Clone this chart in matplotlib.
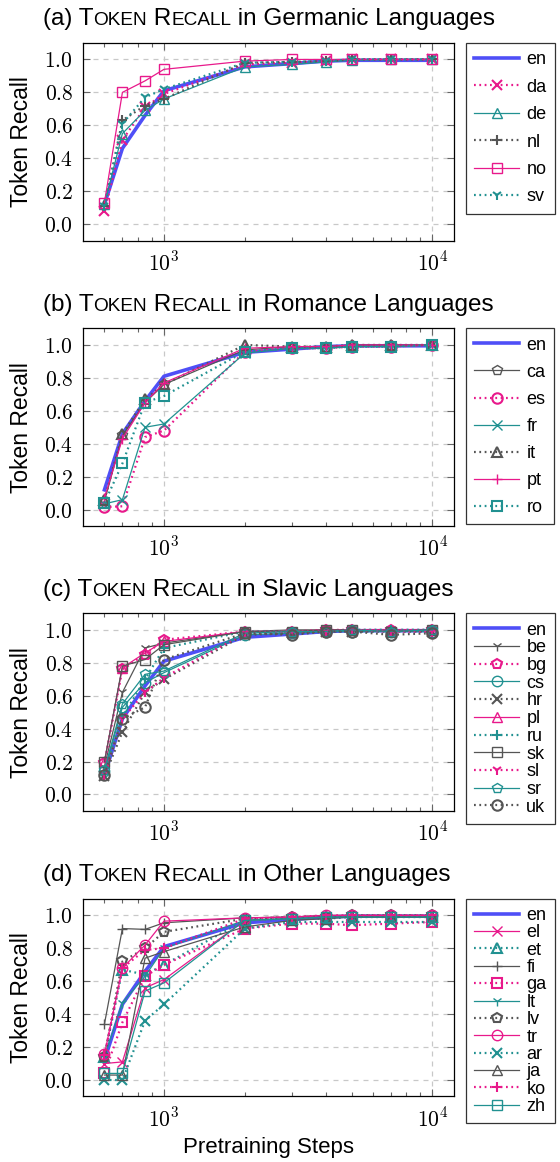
import numpy as np
import matplotlib.pyplot as plt
from matplotlib.offsetbox import TextArea, HPacker, AnchoredOffsetbox
from matplotlib.ticker import NullFormatter

plt.rcParams['font.family'] = ['Liberation Sans', 'DejaVu Sans']
plt.rcParams['mathtext.fontset'] = 'cm'

steps = [600, 700, 850, 1000, 2000, 3000, 4000, 5000, 7000, 10000]
en = [0.12, 0.46, 0.66, 0.81, 0.955, 0.975, 0.99, 0.995, 0.995, 0.995]

# (a) Germanic
germanic_langs = ['da', 'de', 'nl', 'no', 'sv']
da = [0.08, 0.51, 0.71, 0.79, 0.97, 0.98, 0.99, 1.0, 1.0, 1.0]
de = [0.12, 0.55, 0.69, 0.76, 0.955, 0.97, 0.985, 0.995, 1.0, 1.0]
nl = [0.11, 0.63, 0.72, 0.76, 0.98, 0.985, 0.99, 1.0, 1.0, 1.0]
no = [0.13, 0.80, 0.87, 0.94, 0.99, 1.0, 1.0, 1.0, 1.0, 1.0]
sv = [0.11, 0.61, 0.77, 0.82, 0.98, 0.985, 0.99, 1.0, 1.0, 1.0]
germanic_vals = [da, de, nl, no, sv]

# (b) Romance
romance_langs = ['ca', 'es', 'fr', 'it', 'pt', 'ro']
ca = [0.05, 0.45, 0.65, 0.76, 0.97, 0.99, 0.99, 1.0, 1.0, 1.0]
es = [0.015, 0.02, 0.44, 0.48, 0.96, 0.98, 0.98, 0.99, 0.99, 1.0]
fr = [0.035, 0.06, 0.50, 0.52, 0.95, 0.98, 0.98, 0.99, 0.99, 1.0]
it = [0.06, 0.46, 0.67, 0.76, 1.0, 0.99, 0.99, 1.0, 1.0, 1.0]
pt = [0.07, 0.43, 0.65, 0.77, 0.98, 0.99, 0.99, 1.0, 1.0, 1.0]
ro = [0.04, 0.28, 0.65, 0.69, 0.96, 0.98, 0.98, 0.99, 0.99, 1.0]
romance_vals = [ca, es, fr, it, pt, ro]

# (c) Slavic
slavic_langs = ['be', 'bg', 'cs', 'hr', 'pl', 'ru', 'sk', 'sl', 'sr', 'uk']
be = [0.17, 0.62, 0.89, 0.92, 0.99, 1.0, 1.0, 1.0, 1.0, 1.0]
bg = [0.19, 0.76, 0.85, 0.94, 0.99, 0.99, 1.0, 1.0, 1.0, 1.0]
cs = [0.14, 0.53, 0.68, 0.74, 0.97, 0.98, 0.99, 0.99, 0.99, 0.99]
hr = [0.11, 0.38, 0.62, 0.70, 0.97, 0.98, 0.99, 0.99, 0.99, 0.99]
pl = [0.20, 0.77, 0.86, 0.93, 0.99, 0.99, 1.0, 1.0, 1.0, 1.0]
ru = [0.13, 0.47, 0.70, 0.89, 0.99, 0.99, 0.99, 1.0, 1.0, 1.0]
sk = [0.20, 0.78, 0.82, 0.91, 0.99, 0.99, 1.0, 1.0, 0.99, 1.0]
sl = [0.12, 0.46, 0.62, 0.71, 0.98, 0.99, 0.99, 1.0, 0.99, 0.99]
sr = [0.15, 0.55, 0.73, 0.75, 0.98, 0.99, 0.99, 1.0, 0.99, 1.0]
uk = [0.12, 0.46, 0.53, 0.82, 0.98, 0.97, 0.99, 0.99, 0.97, 0.98]
slavic_vals = [be, bg, cs, hr, pl, ru, sk, sl, sr, uk]

# (d) Other
other_langs = ['el', 'et', 'fi', 'ga', 'lt', 'lv', 'tr', 'ar', 'ja', 'ko', 'zh']
el = [0.10, 0.11, 0.56, 0.61, 0.97, 0.98, 0.99, 0.99, 0.99, 0.99]
et = [0.14, 0.67, 0.64, 0.70, 0.97, 0.98, 0.98, 0.99, 0.99, 0.99]
fi = [0.34, 0.92, 0.915, 0.955, 0.985, 0.99, 1.0, 1.0, 1.0, 1.0]
ga = [0.04, 0.35, 0.63, 0.70, 0.92, 0.95, 0.95, 0.94, 0.95, 0.96]
lt = [0.14, 0.47, 0.63, 0.80, 0.97, 0.98, 0.99, 0.99, 0.99, 0.99]
lv = [0.14, 0.72, 0.80, 0.90, 0.98, 0.99, 0.99, 1.0, 1.0, 1.0]
tr = [0.155, 0.68, 0.82, 0.965, 0.985, 0.99, 1.0, 1.0, 1.0, 1.0]
ar = [0.0, 0.0, 0.36, 0.46, 0.92, 0.96, 0.96, 0.96, 0.96, 0.96]
ja = [0.03, 0.03, 0.74, 0.78, 0.93, 0.97, 0.98, 0.99, 0.99, 0.99]
ko = [0.15, 0.68, 0.79, 0.80, 0.98, 0.99, 1.0, 1.0, 1.0, 1.0]
zh = [0.04, 0.04, 0.54, 0.59, 0.97, 0.98, 0.99, 0.99, 0.99, 0.99]
other_vals = [el, et, fi, ga, lt, lv, tr, ar, ja, ko, zh]

panels = [
    ('(a) ', 'Germanic', germanic_langs, germanic_vals),
    ('(b) ', 'Romance', romance_langs, romance_vals),
    ('(c) ', 'Slavic', slavic_langs, slavic_vals),
    ('(d) ', 'Other', other_langs, other_vals),
]

colors = ['#e8198b', '#219191', '#555555']
markers = ['x', '^', '+', 's', '1', 'p', 'o']
blue = '#4f4ff7'

fig = plt.figure(figsize=(5.6, 11.62), dpi=100)

ax_left, ax_w, ax_h = 0.1477, 0.663, 0.17
bottoms = [0.7930, 0.5473, 0.3021, 0.0564]
spacings = [0.58, 0.56, 0.04, 0.02]

k = 0
for p, (tag, group, langs, vals) in enumerate(panels):
    ax = fig.add_axes([ax_left, bottoms[p], ax_w, ax_h])
    ax.set_xscale('log')
    ax.plot(steps, en, color=blue, lw=2.6, label='en', zorder=2)
    for lang, v in zip(langs, vals):
        dotted = (k % 2 == 0)
        ax.plot(steps, v, color=colors[k % 3],
                ls=(0, (0.8, 1.6)) if dotted else '-',
                lw=1.6 if dotted else 0.9,
                marker=markers[k % 7], ms=7.5, mfc='none',
                mew=1.5 if dotted else 1.0, label=lang, zorder=3)
        k += 1

    ax.set_xlim(498, 12030)
    ax.set_ylim(-0.1, 1.1)
    ax.set_xticks([1e3, 1e4], labels=[r'$10^3$', r'$10^4$'])
    ax.set_xticks([600, 700, 800, 900, 2000, 3000, 4000, 5000, 6000, 7000, 8000, 9000], minor=True)
    ax.xaxis.set_minor_formatter(NullFormatter())
    yt = [0.0, 0.2, 0.4, 0.6, 0.8, 1.0]
    ax.set_yticks(yt, labels=[r'$%.1f$' % t for t in yt])
    ax.tick_params(which='both', direction='in', top=True, right=True,
                   color='#666666', labelsize=15.5)
    ax.tick_params(which='major', length=5, width=0.8)
    ax.tick_params(which='minor', length=3, width=0.8)
    ax.tick_params(axis='y', pad=7)
    ax.tick_params(axis='x', pad=8)
    ax.grid(True, which='major', color='#c8c8c8', ls=(0, (4, 4)), lw=0.9)
    ax.set_axisbelow(True)
    for s in ax.spines.values():
        s.set_linewidth(0.9)
    ax.set_ylabel('Token Recall', fontsize=16.5)
    ax.yaxis.set_label_coords(-0.134, 0.5)

    leg = ax.legend(loc='upper left', bbox_to_anchor=(1.032, 1.0),
                    borderaxespad=0, fontsize=13, handlelength=2.5,
                    handletextpad=0.4, labelspacing=spacings[p],
                    borderpad=0.45, fancybox=False, framealpha=1,
                    edgecolor='#333333')
    leg.get_frame().set_linewidth(0.9)

    big, small = 17.5, 13.7
    parts = [TextArea(tag + 'T', textprops=dict(fontsize=big)),
             TextArea('OKEN', textprops=dict(fontsize=small)),
             TextArea(' R', textprops=dict(fontsize=big)),
             TextArea('ECALL', textprops=dict(fontsize=small)),
             TextArea(' in ' + group + ' Languages', textprops=dict(fontsize=big))]
    box = HPacker(children=parts, align='baseline', pad=0, sep=0)
    title = AnchoredOffsetbox(loc='lower left', child=box, pad=0, borderpad=0,
                              frameon=False, bbox_to_anchor=(-0.107, 1.064),
                              bbox_transform=ax.transAxes)
    ax.add_artist(title)

    if p == 3:
        ax.set_xlabel('Pretraining Steps', fontsize=16, labelpad=4)

fig.savefig('out.png', dpi=100)
